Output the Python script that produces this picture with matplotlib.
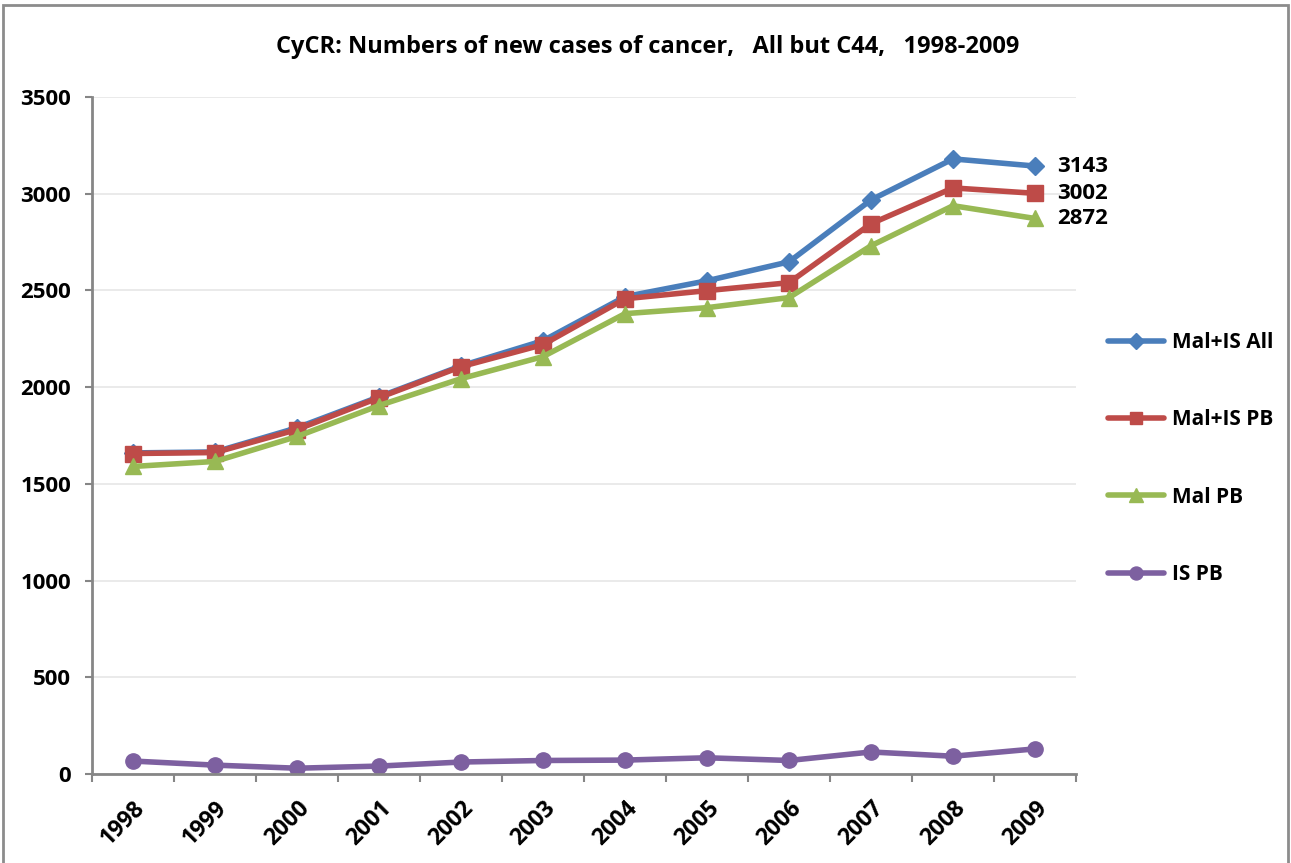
import matplotlib.pyplot as plt
import matplotlib.font_manager as fm
import numpy as np

years = ['1998', '1999', '2000', '2001', '2002', '2003', '2004', '2005', '2006', '2007', '2008', '2009']
mal_is_all = [1660, 1665, 1790, 1950, 2110, 2240, 2468, 2550, 2648, 2968, 3180, 3143]
mal_is_pb = [1657, 1662, 1781, 1946, 2106, 2220, 2457, 2499, 2540, 2845, 3030, 3002]
mal_pb = [1590, 1616, 1745, 1905, 2044, 2158, 2380, 2411, 2463, 2731, 2938, 2872]
is_pb = [67, 46, 30, 41, 62, 70, 72, 84, 70, 114, 92, 130]
end_labels = ['3143', '3002', '2872']

names = [f.name for f in fm.fontManager.ttflist]
fam = 'Liberation Sans Narrow' if 'Liberation Sans Narrow' in names else 'Open Sans'
plt.rcParams['font.family'] = [fam, 'DejaVu Sans']
plt.rcParams['font.weight'] = 'bold'

fig = plt.figure(figsize=(12.91, 8.63), dpi=100)
ax = fig.add_axes([0.0713, 0.1031, 0.7622, 0.7845])

x = np.arange(len(years))
series = [
    (mal_is_all, 'Mal+IS All', '#4a7ebb', 'D', 9),
    (mal_is_pb, 'Mal+IS PB', '#be4b48', 's', 11),
    (mal_pb, 'Mal PB', '#98b954', '^', 12),
    (is_pb, 'IS PB', '#7d60a0', 'o', 11),
]
for vals, lab, col, mk, ms in series:
    ax.plot(x, vals, color=col, lw=4, marker=mk, ms=ms, label=lab,
            solid_capstyle='round')

for v, t in zip([mal_is_all[-1], mal_is_pb[-1], mal_pb[-1]], end_labels):
    ax.annotate(t, (x[-1], v), xytext=(16, 0), textcoords='offset points',
                va='center', ha='left', fontsize=16, fontweight='bold')

ax.set_xlim(-0.5, len(years) - 0.5)
ax.set_ylim(0, 3500)
ax.set_yticks(np.arange(0, 3501, 500))
ax.yaxis.grid(True, color='#e6e6e6', lw=1.2)
ax.set_axisbelow(True)
ax.set_xticks(x)
ax.set_xticklabels(years, rotation=45, ha='right', va='top', rotation_mode='anchor',
                   fontsize=16.5, fontweight='bold')
ax.set_xticks(np.arange(-0.5, len(years)), minor=True)
ax.tick_params(axis='x', which='major', length=0, pad=16)
ax.tick_params(axis='x', which='minor', length=6, width=1.5, color='#868686', direction='out')
ax.tick_params(axis='y', length=5, width=1.5, color='#868686', labelsize=16, pad=10)
for lbl in ax.get_yticklabels():
    lbl.set_fontweight('bold')
for s in ['top', 'right']:
    ax.spines[s].set_visible(False)
for s in ['left', 'bottom']:
    ax.spines[s].set_color('#868686')
    ax.spines[s].set_linewidth(2)

fig.text(0.502, 0.945, 'CyCR: Numbers of new cases of cancer,   All but C44,   1998-2009',
         ha='center', va='center', fontsize=17, fontweight='bold')

ax.legend(loc='center left', bbox_to_anchor=(1.013, 0.466), frameon=False, fontsize=15,
          labelspacing=2.7, handlelength=2.7, handletextpad=0.4, markerscale=0.85)

fig.patches.append(plt.Rectangle((0.002, -0.01), 0.996, 1.004, transform=fig.transFigure,
                                 fill=False, edgecolor='#8c8c8c', lw=2))

fig.savefig('out.png', dpi=100)
